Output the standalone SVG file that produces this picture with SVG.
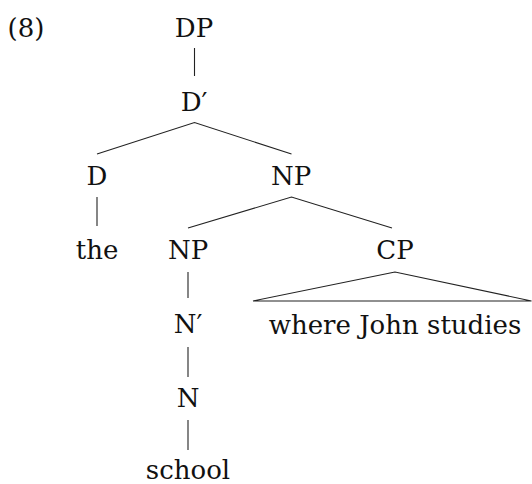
<svg xmlns="http://www.w3.org/2000/svg" width="532" height="484" viewBox="0 0 532 484">
<style>
text{font-family:"DejaVu Serif","Liberation Serif",serif;font-size:26px;fill:#111;text-anchor:middle}
.e{stroke:#222;stroke-width:1.1;fill:none}
</style>
<rect width="532" height="484" fill="#fff"/>
<text x="26" y="37">(8)</text>
<g id="DP"><text x="194" y="37">DP</text></g>
<g id="Dbar"><text x="194" y="111">D′</text></g>
<g id="D"><text x="97" y="185">D</text></g>
<g id="NP1"><text x="291" y="185">NP</text></g>
<g id="the"><text x="97" y="259">the</text></g>
<g id="NP2"><text x="188" y="259">NP</text></g>
<g id="CP"><text x="395" y="259">CP</text></g>
<g id="CPtext"><text x="395" y="334">where John studies</text></g>
<g id="Nbar"><text x="188" y="333">N′</text></g>
<g id="N"><text x="188" y="407">N</text></g>
<g id="school"><text x="188" y="479">school</text></g>
<g id="edges" class="e">
<line x1="194.5" y1="48" x2="194.5" y2="76"/>
<polyline points="97,154 194.5,122.5 291.5,154"/>
<line x1="97" y1="197" x2="97" y2="226"/>
<polyline points="188,228 291.5,197 392,228"/>
<polygon points="395,272 253,301 531.5,301"/>
<line x1="188" y1="272" x2="188" y2="298"/>
<line x1="188" y1="347" x2="188" y2="377"/>
<line x1="188" y1="420" x2="188" y2="450"/>
</g>
</svg>
